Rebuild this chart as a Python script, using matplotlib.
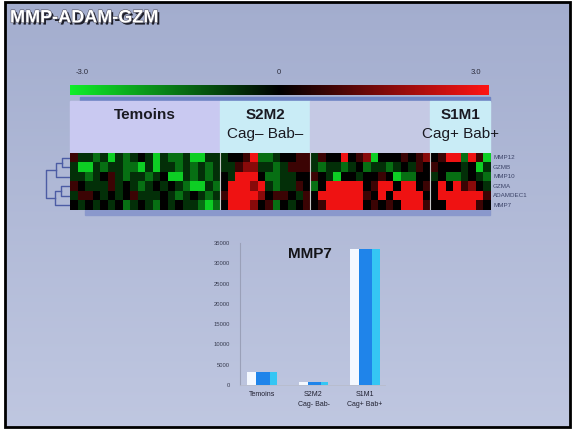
import matplotlib
matplotlib.use("Agg")
import matplotlib.pyplot as plt
import matplotlib.patheffects as pe
from matplotlib.colors import LinearSegmentedColormap
from matplotlib.patches import Rectangle
import numpy as np

W, H = 573, 430
plt.rcParams["font.family"] = ["Liberation Sans", "DejaVu Sans"]

# one letter per heatmap cell: G bright green ... k black ... R bright red
LEVELS = {"G": -2.6, "g": -1.4, "d": -0.6, "k": 0.0, "m": 0.7, "r": 1.6, "R": 2.8}

genes = ["MMP12", "GZMB", "MMP10", "GZMA", "ADAMDEC1", "MMP7"]

temoins_rows = [
    "mddgdGdgdkdGdggdGGdd",
    "dGGdgddggGdGddgdgdgd",
    "ddgdkmdgddgdkGGdgdgd",
    "mkdddmdkdgdkdkdgGGdg",
    "dmmkdkdkmdddkdgdkdgd",
    "kdkdkdkgdkdgkdkddgGg",
]
s2m2_rows = [
    "dkkmRggdkkmm",
    "ddmrrddgdmmm",
    "kdRRRkggddkk",
    "kRRRrRdgddmk",
    "mRRRRrkmmkdm",
    "kRRRrkmgkdkm",
]
middle_rows = [
    "dmkkRkmrGkkkmkmr",
    "dgddgdkgddgdkdmk",
    "mkdGkkdkkmkGggkk",
    "gkRRRRRkmRRkRRkm",
    "kRRRRRRmkRkRRRRk",
    "kmRRRRRkmkmkRRRm",
]
s1m1_rows = [
    "kmRRgRmG",
    "mkkkdkGd",
    "dkggdkdg",
    "kRkRmrkd",
    "kRRRRRRm",
    "kkRRRRmk",
]
group_rows = [temoins_rows, s2m2_rows, middle_rows, s1m1_rows]
group_titles = ["Temoins", "S2M2", "", "S1M1"]
group_subtitles = ["", "Cag\u2013 Bab\u2013", "", "Cag+ Bab+"]
group_colors = ["#c9c9f1", "#c9ecf6", "#c5c9e4", "#c9ecf6"]

# row clustering: (left node, right node, distance); new nodes numbered from 6
dendro_links = [(0, 1, 0.3), (6, 2, 0.55), (3, 4, 0.35), (8, 5, 0.6), (7, 9, 1.0)]

cbar_ticks = [-3.0, 0.0, 3.0]
cbar_labels = ["-3.0", "0", "3.0"]

bar_labels = ["Temoins", "S2M2\nCag- Bab-", "S1M1\nCag+ Bab+"]
mmp7_values = [3200, 700, 33500]
bar_yticks = [0, 5000, 10000, 15000, 20000, 25000, 30000, 35000]

heat = np.array([[LEVELS[c] for c in "".join(g[i] for g in group_rows)]
                 for i in range(len(genes))])
group_sizes = [len(g[0]) for g in group_rows]
bounds = np.cumsum([0] + group_sizes)

cmap = LinearSegmentedColormap.from_list("gkr", ["#10ee2a", "#000000", "#ff1414"])

fig = plt.figure(figsize=(W / 100, H / 100), dpi=100)


def px_axes(x0, y0, x1, y1, z=1):
    return fig.add_axes([x0 / W, 1 - y1 / H, (x1 - x0) / W, (y1 - y0) / H], zorder=z)


# slide background
bg = px_axes(0, 0, W, H, z=0)
bg.set_xlim(0, W)
bg.set_ylim(H, 0)
bg.axis("off")
top = np.array([0.64, 0.68, 0.81])
bot = np.array([0.75, 0.78, 0.88])
t = np.linspace(0, 1, 200)[:, None, None]
grad = top * (1 - t) + bot * t
bg.imshow(grad, extent=(5, 570, 427, 2), aspect="auto", zorder=0)
bg.add_patch(Rectangle((5, 2), 565, 425, fill=False, ec="black", lw=2, zorder=5))

bg.text(10, 18, "MMP-ADAM-GZM", color="white", fontsize=13, fontweight="bold",
        va="center", ha="left",
        path_effects=[pe.withSimplePatchShadow(offset=(1.5, -1.5), shadow_rgbFace="#101018", alpha=0.9),
                      pe.withStroke(linewidth=0.8, foreground="#505060")])

# heatmap geometry in pixels
hx0, hx1, hy0, hy1 = 70, 490, 153, 210
col_w = (hx1 - hx0) / heat.shape[1]
row_h = (hy1 - hy0) / heat.shape[0]

# group header bands
bg.add_patch(Rectangle((80, 97), 410, 5, color="#6f84c4", zorder=1))
for k, (title, sub, col) in enumerate(zip(group_titles, group_subtitles, group_colors)):
    x0 = hx0 + bounds[k] * col_w
    x1 = hx0 + bounds[k + 1] * col_w
    bg.add_patch(Rectangle((x0, 101), x1 - x0, hy0 - 101, color=col, zorder=2))
    cx = (x0 + x1) / 2
    if title:
        bg.text(cx, 115, title, fontsize=11, fontweight="bold", ha="center", va="center",
                color="#1a1a22", zorder=3)
    if sub:
        bg.text(cx, 134, sub, fontsize=11, ha="center", va="center", color="#1a1a22", zorder=3)
bg.add_patch(Rectangle((85, hy1), hx1 - 85, 5, color="#8a98cc", zorder=1))

# heatmap
hax = px_axes(hx0, hy0, hx1, hy1, z=2)
hax.imshow(heat, cmap=cmap, vmin=-3, vmax=3, aspect="auto", interpolation="nearest")
for b in bounds[1:-1]:
    hax.axvline(b - 0.5, color="#c8c8c8", lw=0.8)
hax.set_xticks([])
hax.set_yticks([])
for s in hax.spines.values():
    s.set_visible(False)

for i, g in enumerate(genes):
    bg.text(hx1 + 3, hy0 + (i + 0.5) * row_h, g, fontsize=4.5, color="#3c4468",
            ha="left", va="center")


# dendrogram of the rows
def draw_dendrogram(ax, links, n, x_leaf, x_root):
    pos = {i: (x_leaf, hy0 + (i + 0.5) * row_h) for i in range(n)}
    hmax = max(h for _, _, h in links)
    for k, (a, b, h) in enumerate(links):
        x = x_leaf - (x_leaf - x_root) * h / hmax
        xa, ya = pos[a]
        xb, yb = pos[b]
        ax.plot([xa, x, x, xb], [ya, ya, yb, yb], color="#4c5ca4", lw=1, zorder=3)
        pos[n + k] = (x, (ya + yb) / 2)


draw_dendrogram(bg, dendro_links, len(genes), hx0 - 1, 46)

# color scale
cax = px_axes(70, 85, 488, 95, z=2)
cax.imshow(np.linspace(-3, 3, 256)[None, :], cmap=cmap, vmin=-3, vmax=3, aspect="auto")
cax.axis("off")
for v, lab in zip(cbar_ticks, cbar_labels):
    bg.text(70 + 12 + (v + 3) / 6 * (488 - 70 - 24), 73, lab, fontsize=5.5,
            color="#2c2c3c", ha="center", va="center")

# MMP7 bar chart
bax = px_axes(240, 243, 385, 385, z=2)
bax.set_facecolor("none")
xs = np.arange(len(mmp7_values))
bw = 0.58
strips = [(0.0, 0.3, "#f4f8ff"), (0.3, 0.45, "#1f84ea"), (0.75, 0.25, "#35c6f4")]
for off, frac, col in strips:
    bax.bar(xs - bw / 2 + off * bw, mmp7_values, width=frac * bw, align="edge",
            color=col, lw=0)
bax.set_xlim(-0.43, 2.39)
bax.set_ylim(0, 35000)
bax.set_yticks(bar_yticks)
bax.set_yticklabels([str(v) for v in bar_yticks], fontsize=4.2, color="#383c50")
bax.set_xticks(xs)
bax.set_xticklabels(bar_labels, fontsize=5, color="#202030", linespacing=1.6)
bax.tick_params(axis="y", length=0, pad=7)
bax.tick_params(axis="x", length=0, pad=4)
for name in ["top", "right"]:
    bax.spines[name].set_visible(False)
bax.spines["left"].set_color("#9aa0b8")
bax.spines["bottom"].set_color("#b8bccc")
bax.spines["left"].set_linewidth(0.8)
bax.spines["bottom"].set_linewidth(0.6)

bg.text(310, 254, "MMP7", fontsize=11, fontweight="bold", ha="center", va="center",
        color="#141418", zorder=3)

fig.savefig("out.png", dpi=100, facecolor="white")
